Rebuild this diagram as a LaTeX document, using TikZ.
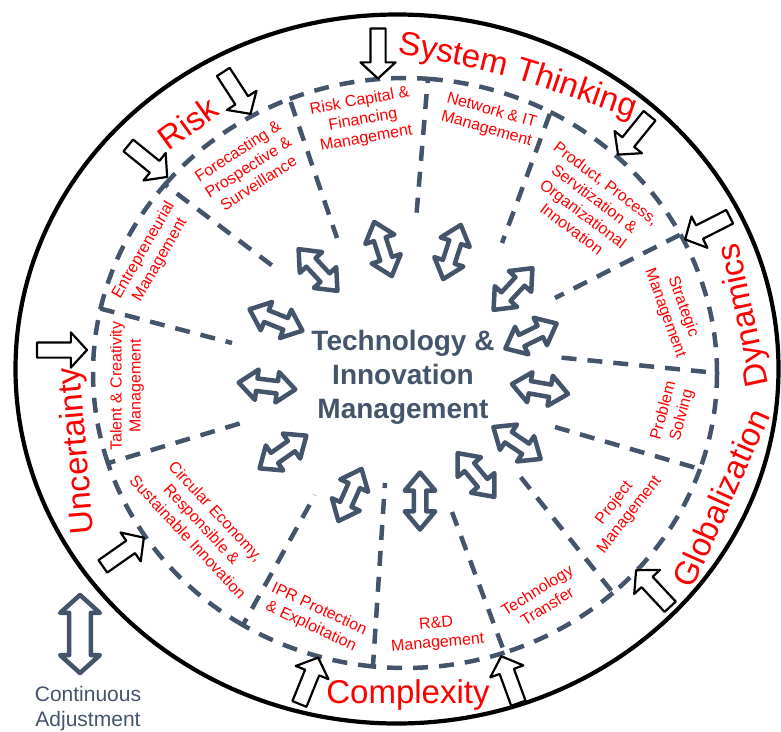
\documentclass[tikz,border=0pt]{standalone}
\usepackage{fontspec}
\setmainfont{Liberation Sans}
\usetikzlibrary{shapes.arrows,decorations.text}
\definecolor{slate}{HTML}{44546A}
\begin{document}
\begin{tikzpicture}[x=1pt, y=-1pt, line join=round,
		ring/.style={draw=slate, line width=4.5pt, dash pattern=on 15pt off 11pt},
		twoway/.style={double arrow, draw=slate, fill=white, line width=4.5pt, inner xsep=0pt, inner ysep=4pt, double arrow head extend=9pt, double arrow tip angle=80, minimum height=57pt},
		push/.style={single arrow, draw=black, fill=white, line width=2.2pt, inner xsep=0pt, inner ysep=6.5pt, single arrow head extend=10pt, single arrow tip angle=95, minimum height=50pt},
		topic/.style={text=red, font=\fontsize{16}{19}\selectfont, align=center},
		force/.style={text=red, font=\fontsize{33}{38}\selectfont}]
	\useasboundingbox (0,0) rectangle (781,731);
	% outer frame
	\draw[line width=4.2pt] (397,369) ellipse [x radius=381.5, y radius=354.5];
	% dashed sectors: outer arc, then side down to the hub
	\foreach \a/\b/\ix/\iy in {-167.4/-140.3/278/270, -140.3/-111.7/337/238, -111.7/-85.8/416/220,
		-85.8/-62.2/502/243, -62.2/-28/555/298, -28/0/555/357, 0/19/548/425, 19/48.2/515/470,
		48.2/71.4/452/512, 71.4/95.9/385/483, 95.9/121.3/315/495, 121.3/162.2/248/421, 162.2/192.6/232/343}
		\draw[ring] ({405+312*cos(\a)},{373+295*sin(\a)}) arc[start angle=\a, end angle=\b, x radius=312, y radius=295] -- (\ix,\iy);
	% hub
	\node[text=slate, font=\fontsize{28}{34}\selectfont\bfseries, align=center] (hub) at (403,377) {Technology \&\\Innovation\\Management};
	% two-way arrows round the hub
	\foreach \x/\y/\r [count=\i] in {318/270/-47, 276/320/-22, 383/249/-72, 452/252/72, 513/289/47, 531/336/26, 540/389/-10,
		517/443/-34, 476/475/-50, 420/501/90, 350/495/66, 283/452/35, 267/386/-7}
		\node[twoway, rotate=\r] (t\i) at (\x,\y) {};
	% pushes from outside
	\foreach \x/\y/\r [count=\i] in {378/50/-90, 235/90/-57, 145/159/-39, 58.5/350/0, 120.5/554/35, 307.5/684/68,
		511/683/110, 655.5/591/133, 710.5/226.5/-153, 636/132.5/-129}
		\node[push, rotate=\r] (p\i) at (\x,\y) {};
	% sector topics
	\node[topic, rotate=60] (entre) at (152,255) {Entrepreneurial\\Management};
	\node[topic, rotate=33] (fore) at (248,167) {Forecasting \&\\Prospective \&\\Surveillance};
	\node[topic, rotate=10] (capital) at (363,120) {Risk Capital \&\\Financing\\Management};
	\node[topic, rotate=-16] (network) at (489,120) {Network \& IT\\Management};
	\node[topic, rotate=-37] (product) at (589,206) {Product, Process,\\Servitization \&\\Organizational\\Innovation};
	\node[topic, rotate=-70] (strategic) at (674,310) {Strategic\\Management};
	\node[topic, rotate=75] (problem) at (673,413) {Problem\\Solving};
	\node[topic, rotate=52] (project) at (622,509) {Project\\Management};
	\node[topic, rotate=32] (transfer) at (542,598) {Technology\\Transfer};
	\node[topic, rotate=5] (rnd) at (437,634) {R\&D\\Management};
	\node[topic, rotate=-25] (ipr) at (315,618) {IPR Protection\\\& Exploitation};
	\node[topic, rotate=-47] (circular) at (202,524) {Circular Economy,\\Responsible \&\\Sustainable Innovation};
	\node[topic, rotate=90] (talent) at (127,386) {Talent \& Creativity\\Management};
	% forces on the rim
	\node[force, rotate=36] (risk) at (188,123) {Risk};
	\path[decorate, decoration={text along path, text align=center, text color=red,
		text={|\fontsize{33}{38}\selectfont|System Thinking}}] (398,54) .. controls (500,72) .. (632,118);
	\node[force, rotate=102] (dynamics) at (745,315) {Dynamics};
	\node[force, rotate=66] (global) at (721,498) {Globalization};
	\node[force] (complex) at (408,695) {Complexity};
	\node[force, rotate=95] (uncert) at (78,451) {Uncertainty};
	% adjustment
	\node[twoway, line width=4.5pt, inner ysep=8.6pt, double arrow head extend=9pt, double arrow tip angle=96, minimum height=78pt, rotate=90] (adjust) at (80,634) {};
	\node[text=slate, font=\fontsize{21}{25}\selectfont, align=center] (adjusttext) at (88,709) {Continuous\\Adjustment};
\end{tikzpicture}
\end{document}
